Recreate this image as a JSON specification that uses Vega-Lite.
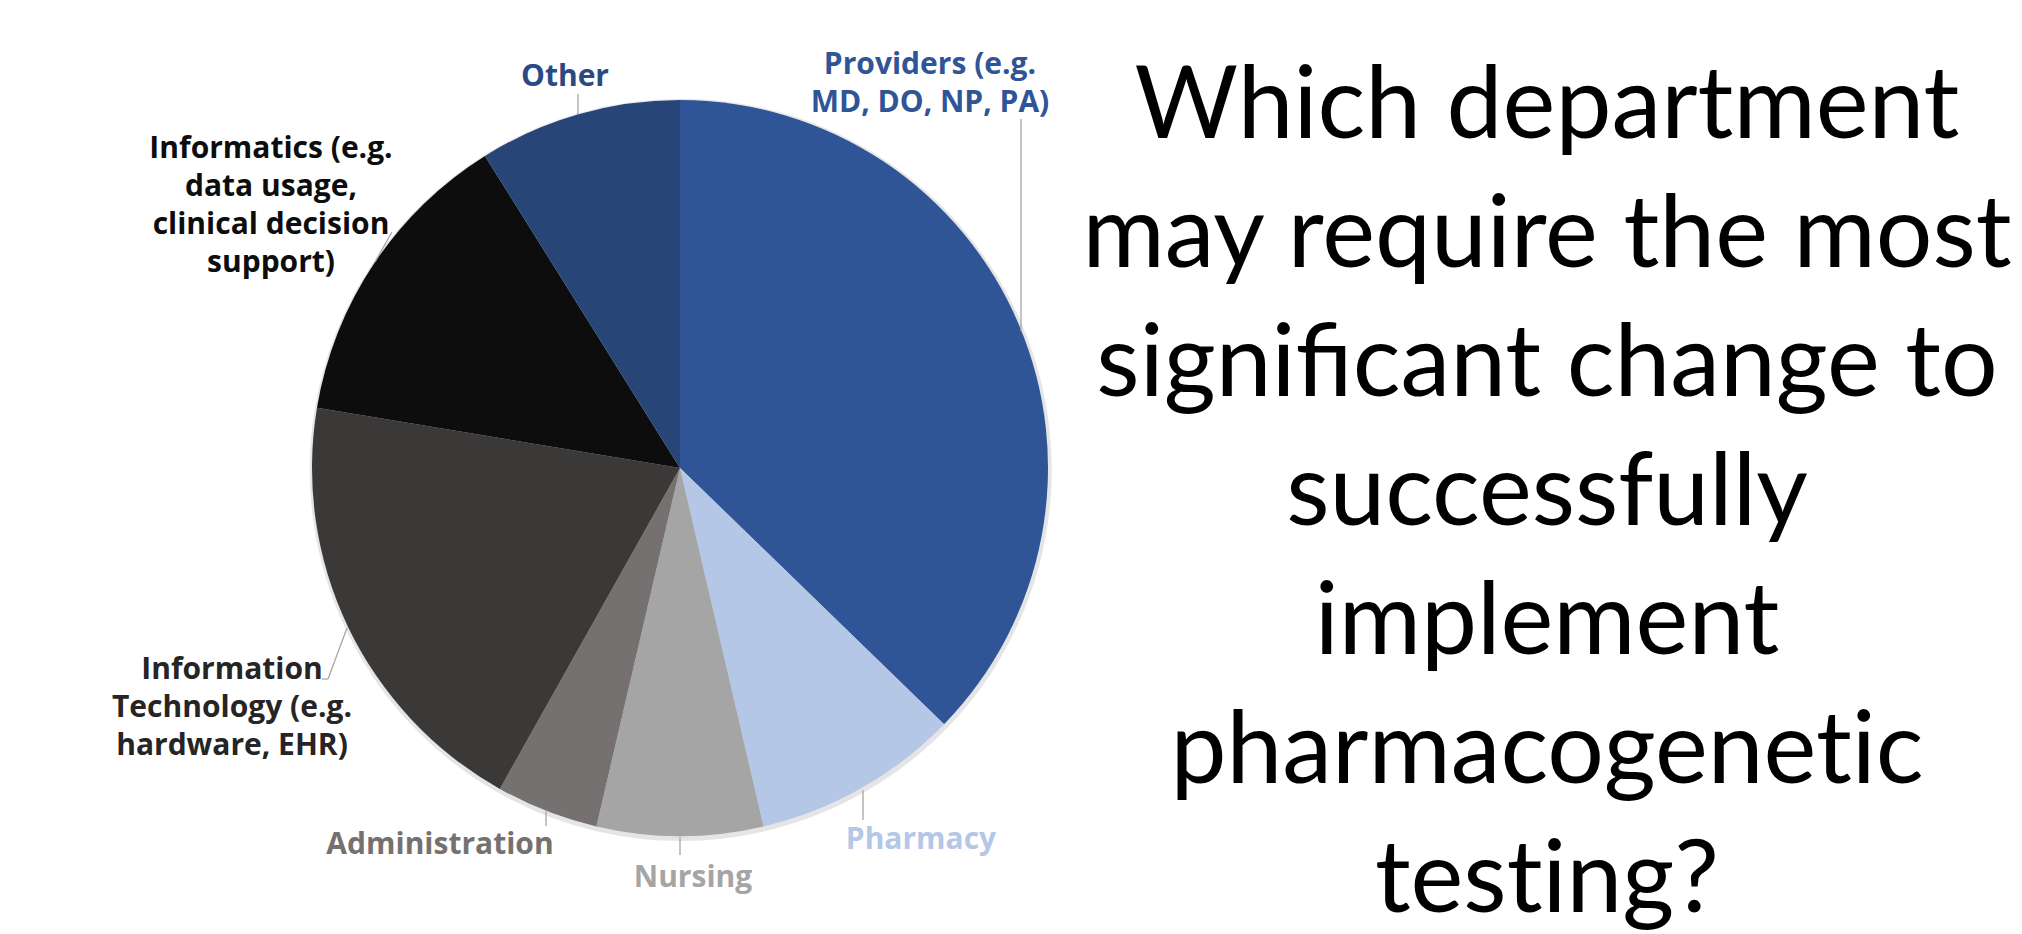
{
  "$schema": "https://vega.github.io/schema/vega-lite/v6.json",
  "width": 2022,
  "height": 934,
  "autosize": {"type": "fit", "contains": "padding"},
  "padding": 0,
  "background": "white",
  "config": {"view": {"stroke": null}},
  "datasets": {
    "shares": [
      {"idx": 1, "department": "Providers", "share": 37.3},
      {"idx": 2, "department": "Pharmacy", "share": 9.1},
      {"idx": 3, "department": "Nursing", "share": 7.3},
      {"idx": 4, "department": "Administration", "share": 4.5},
      {"idx": 5, "department": "Information Technology", "share": 19.5},
      {"idx": 6, "department": "Informatics", "share": 13.5},
      {"idx": 7, "department": "Other", "share": 8.9}
    ],
    "labels": [
      {"department": "Providers", "text": "Providers (e.g.\nMD, DO, NP, PA)", "lx": 0.6793, "ly": 1.0707},
      {"department": "Pharmacy", "text": "Pharmacy", "lx": 0.6549, "ly": -1.0353},
      {"department": "Nursing", "text": "Nursing", "lx": 0.0353, "ly": -1.1386},
      {"department": "Administration", "text": "Administration", "lx": -0.6522, "ly": -1.0489},
      {"department": "Information Technology", "text": "Information\nTechnology (e.g.\nhardware, EHR)", "lx": -1.2174, "ly": -0.5734},
      {"department": "Informatics", "text": "Informatics (e.g.\ndata usage,\nclinical decision\nsupport)", "lx": -1.1114, "ly": 0.8424},
      {"department": "Other", "text": "Other", "lx": -0.3125, "ly": 1.038}
    ],
    "leaders": [
      {"department": "Providers", "x": 0.9266, "y": 0.9484, "x2": 0.9266, "y2": 0.3723},
      {"department": "Other", "x": -0.2772, "y": 1.0163, "x2": -0.2772, "y2": 0.962},
      {"department": "Informatics", "x": -0.7826, "y": 0.6413, "x2": -0.8288, "y2": 0.5598},
      {"department": "Information Technology", "x": -0.9728, "y": -0.5734, "x2": -0.9565, "y2": -0.5734},
      {"department": "Information Technology", "x": -0.9565, "y": -0.5734, "x2": -0.9049, "y2": -0.4348},
      {"department": "Administration", "x": -0.3641, "y": -0.9293, "x2": -0.3641, "y2": -0.9728},
      {"department": "Nursing", "x": 0.0, "y": -1.0027, "x2": 0.0, "y2": -1.0516},
      {"department": "Pharmacy", "x": 0.4973, "y": -0.875, "x2": 0.4973, "y2": -0.9565}
    ],
    "question": [
      {"q": "Which department\nmay require the most\nsignificant change to\nsuccessfully\nimplement\npharmacogenet\u200cic\ntest\u200cing?", "qx": 2.356, "qy": 0.8967}
    ]
  },
  "resolve": {"scale": {"color": "independent"}},
  "layer": [
    {
      "data": {"name": "shares"},
      "mark": {"type": "arc", "outerRadius": 371, "opacity": 0.1, "color": "#000000"},
      "encoding": {
        "x": {"datum": 0.002, "type": "quantitative", "scale": {"domain": [-1.84783, 3.64674], "nice": false, "zero": false}, "axis": null},
        "y": {"datum": -0.005, "type": "quantitative", "scale": {"domain": [-1.2663, 1.27174], "nice": false, "zero": false}, "axis": null},
        "theta": {"field": "share", "type": "quantitative", "stack": true},
        "order": {"field": "idx", "type": "quantitative"}
      }
    },
    {
      "data": {"name": "shares"},
      "mark": {"type": "arc", "outerRadius": 368},
      "encoding": {
        "x": {"datum": 0, "type": "quantitative", "scale": {"domain": [-1.84783, 3.64674], "nice": false, "zero": false}, "axis": null},
        "y": {"datum": 0, "type": "quantitative", "scale": {"domain": [-1.2663, 1.27174], "nice": false, "zero": false}, "axis": null},
        "theta": {"field": "share", "type": "quantitative", "stack": true},
        "order": {"field": "idx", "type": "quantitative"},
        "color": {
          "field": "department",
          "type": "nominal",
          "legend": null,
          "scale": {
            "domain": ["Providers", "Pharmacy", "Nursing", "Administration", "Information Technology", "Informatics", "Other"],
            "range": ["#2F5597", "#B4C7E7", "#A5A5A5", "#767171", "#3B3838", "#0D0D0D", "#274677"]
          }
        }
      }
    },
    {
      "data": {"name": "leaders"},
      "mark": {"type": "rule", "color": "#A6A6A6", "strokeWidth": 1.3},
      "encoding": {
        "x": {"field": "x", "type": "quantitative", "scale": {"domain": [-1.84783, 3.64674], "nice": false, "zero": false}, "axis": null},
        "y": {"field": "y", "type": "quantitative", "scale": {"domain": [-1.2663, 1.27174], "nice": false, "zero": false}, "axis": null},
        "x2": {"field": "x2"},
        "y2": {"field": "y2"}
      }
    },
    {
      "data": {"name": "labels"},
      "mark": {"type": "text", "font": "Open Sans", "fontWeight": "bold", "fontSize": 30, "lineHeight": 38, "lineBreak": "\n", "align": "center", "baseline": "alphabetic"},
      "encoding": {
        "x": {"field": "lx", "type": "quantitative", "scale": {"domain": [-1.84783, 3.64674], "nice": false, "zero": false}, "axis": null},
        "y": {"field": "ly", "type": "quantitative", "scale": {"domain": [-1.2663, 1.27174], "nice": false, "zero": false}, "axis": null},
        "text": {"field": "text", "type": "nominal"},
        "color": {
          "field": "department",
          "type": "nominal",
          "legend": null,
          "scale": {
            "domain": ["Providers", "Pharmacy", "Nursing", "Administration", "Information Technology", "Informatics", "Other"],
            "range": ["#2F5597", "#B4C7E7", "#A5A5A5", "#767171", "#262424", "#0D0D0D", "#2B4A84"]
          }
        }
      }
    },
    {
      "data": {"name": "question"},
      "mark": {"type": "text", "font": "Lato", "fontSize": 100, "lineHeight": 129, "lineBreak": "\n", "align": "center", "baseline": "alphabetic", "color": "#000000"},
      "encoding": {
        "x": {"field": "qx", "type": "quantitative", "scale": {"domain": [-1.84783, 3.64674], "nice": false, "zero": false}, "axis": null},
        "y": {"field": "qy", "type": "quantitative", "scale": {"domain": [-1.2663, 1.27174], "nice": false, "zero": false}, "axis": null},
        "text": {"field": "q", "type": "nominal"}
      }
    }
  ]
}
